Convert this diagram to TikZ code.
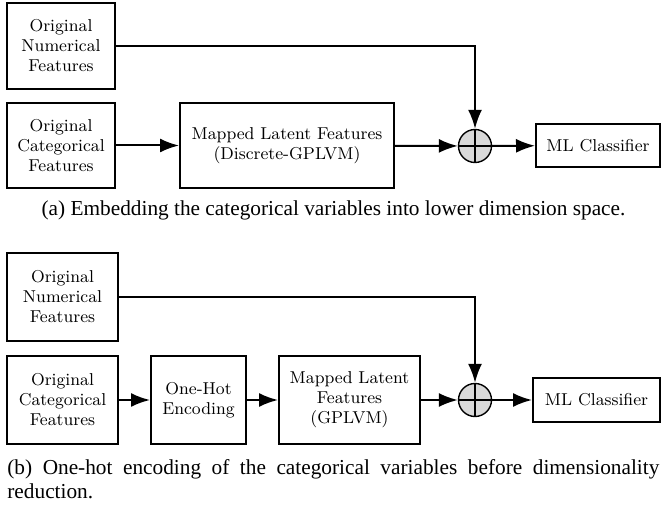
\documentclass[tikz,border=0pt]{standalone}
\usepackage{fontspec}
\newfontfamily\capfont{Liberation Serif}
\usetikzlibrary{arrows.meta}
\begin{document}
\begin{tikzpicture}[x=0.5pt,y=-0.5pt,
  box/.style={draw, line width=1pt, align=center, inner sep=0pt, font=\fontsize{8.6}{10}\selectfont},
  conn/.style={line width=1pt, -{Latex[length=9.5pt,width=7pt]}},
  sumnode/.style={circle, draw, line width=0.7pt, fill=black!15, minimum size=16.5pt, inner sep=0pt},
  cross/.style={line width=0.7pt},
  captext/.style={font=\capfont\fontsize{10.65}{12}\selectfont, inner sep=0pt}]
\useasboundingbox (0,0) rectangle (662,506);
% ---------- panel (a)
\node[box, minimum width=54pt, minimum height=43pt] (numA) at (61,46) {Original\\Numerical\\Features};
\node[box, minimum width=54pt, minimum height=42.5pt] (catA) at (61,145.5) {Original\\Categorical\\Features};
\node[box, minimum width=107pt, minimum height=42.5pt] (mapA) at (287,145.5) {Mapped Latent Features\\(Discrete-GPLVM)};
\node[sumnode] (sumA) at (475,146) {};
\draw[cross] (sumA.north) -- (sumA.south) (sumA.west) -- (sumA.east);
\node[box, minimum width=62pt, minimum height=21.5pt] (mlA) at (598,145.5) {ML Classifier};
\draw[conn] (catA) -- (mapA);
\draw[conn] (mapA) -- (sumA);
\draw[conn] (sumA) -- (mlA);
\draw[conn] (numA.east) -| (sumA.north);
\node[captext, anchor=base] (capa) at (333.5,216) {(a) Embedding the categorical variables into lower dimension space.};
% ---------- panel (b)
\node[box, minimum width=55.5pt, minimum height=44pt] (numB) at (62.5,297) {Original\\Numerical\\Features};
\node[box, minimum width=55.5pt, minimum height=44pt] (catB) at (62.5,400) {Original\\Categorical\\Features};
\node[box, minimum width=47.5pt, minimum height=44pt] (ohB) at (198.5,400) {One-Hot\\Encoding};
\node[box, minimum width=70.5pt, minimum height=44pt] (mapB) at (349.5,400) {Mapped Latent\\Features\\(GPLVM)};
\node[sumnode] (sumB) at (475,400) {};
\draw[cross] (sumB.north) -- (sumB.south) (sumB.west) -- (sumB.east);
\node[box, minimum width=63.5pt, minimum height=22pt] (mlB) at (596.5,400) {ML Classifier};
\draw[conn] (catB) -- (ohB);
\draw[conn] (ohB) -- (mapB);
\draw[conn] (mapB) -- (sumB);
\draw[conn] (sumB) -- (mlB);
\draw[conn] (numB.east) -| (sumB.north);
\node[captext, anchor=base west] (capb1) at (7,474) {\makebox[326pt][s]{(b) One-hot encoding of the categorical variables before dimensionality}};
\node[captext, anchor=base west] (capb2) at (7,498) {reduction.};
\end{tikzpicture}
\end{document}
